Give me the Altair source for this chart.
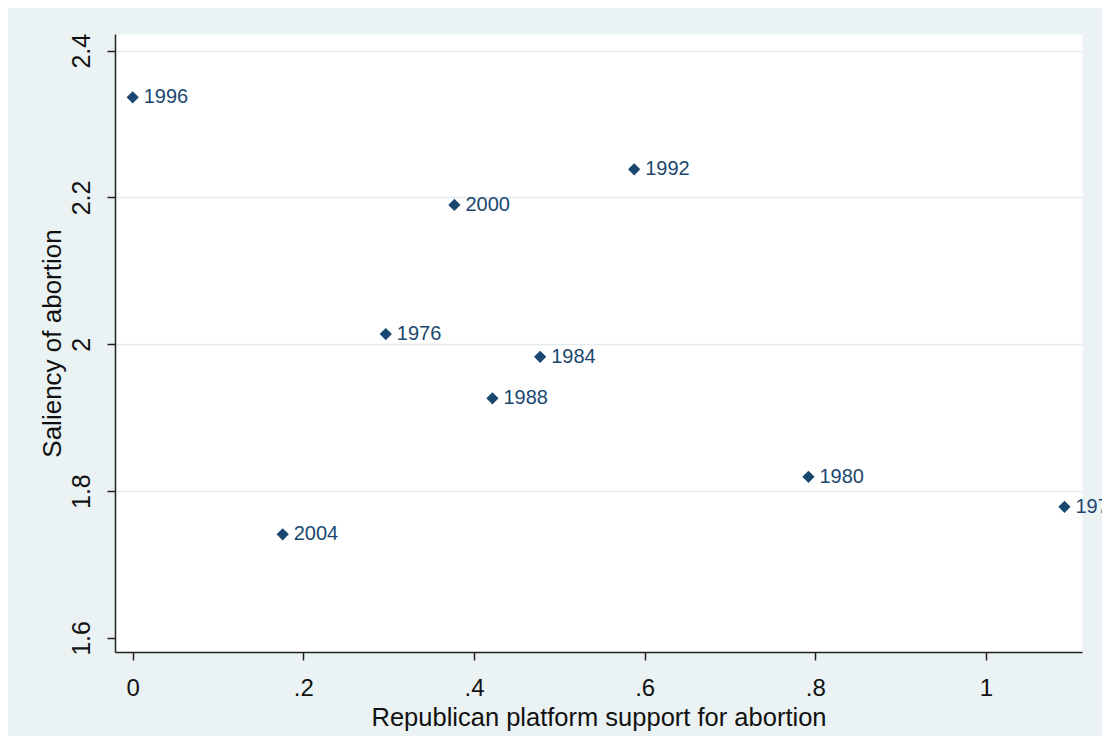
import altair as alt
import pandas as pd

years = ["1972", "1976", "1980", "1984", "1988", "1992", "1996", "2000", "2004"]
support = [1.092, 0.2966, 0.792, 0.4775, 0.4216, 0.5877, 0.0, 0.377, 0.1758]
saliency = [1.7787, 2.014, 1.8196, 1.983, 1.9264, 2.2384, 2.3365, 2.1898, 1.7412]

x_ticks = [0, 0.2, 0.4, 0.6, 0.8, 1]
y_ticks = [1.6, 1.8, 2.0, 2.2, 2.4]

df = pd.DataFrame({"year": years, "support": support, "saliency": saliency})

NAVY = "#1A476F"
FONT = "Liberation Sans"
PW, PH = 967, 618

xscale = alt.Scale(domain=[-0.02075, 1.11255], nice=False, zero=False)
yscale = alt.Scale(domain=[1.5809, 2.4227], nice=False, zero=False)

xaxis = alt.Axis(
    title="Republican platform support for abortion",
    values=x_ticks,
    labelExpr="datum.value == 0 ? '0' : datum.value >= 1 ? '1' : '.' + format(datum.value * 10, 'd')",
    grid=False,
    labelBaseline="alphabetic",
    labelPadding=35,
    labelFontSize=24,
    titleFontSize=25.5,
    titleFontWeight="normal",
    titleBaseline="alphabetic",
    titleX=PW / 2,
    titleY=73,
)
yaxis = alt.Axis(
    title="Saliency of abortion",
    values=y_ticks,
    labelExpr="format(datum.value, '.1~f')",
    labelAngle=270,
    labelAlign="center",
    labelBaseline="alphabetic",
    labelPadding=18,
    labelFontSize=25,
    grid=True,
    gridOpacity=alt.condition("datum.value < 1.7", alt.value(0), alt.value(1)),
    titleFontSize=26,
    titleFontWeight="normal",
    titleAngle=270,
    titleBaseline="alphabetic",
    titleX=-55,
    titleY=PH / 2,
)

base = alt.Chart(df)

points = base.mark_point(shape="diamond", filled=True, size=150, color=NAVY, opacity=1).encode(
    x=alt.X("support:Q", scale=xscale, axis=xaxis),
    y=alt.Y("saliency:Q", scale=yscale, axis=yaxis),
)

labels = base.mark_text(align="left", baseline="middle", dx=11, fontSize=20, font=FONT, color=NAVY).encode(
    x=alt.X("support:Q", scale=xscale),
    y=alt.Y("saliency:Q", scale=yscale),
    text="year:N",
)

chart = (
    alt.layer(points, labels)
    .properties(
        width=PW,
        height=PH,
        autosize=alt.AutoSizeParams(type="none"),
        padding={"left": 107, "top": 26, "right": 20, "bottom": 84},
        background="#EAF2F3",
    )
    .configure_view(fill="white", stroke="transparent")
    .configure_axis(
        domainColor="#222222",
        domainWidth=1.5,
        tickColor="#222222",
        tickWidth=1.5,
        tickSize=8,
        labelColor="#111111",
        titleColor="#111111",
        labelFont=FONT,
        titleFont=FONT,
        gridColor="#E2ECEE",
        gridWidth=1.5,
    )
)

chart.save("out.html", embed_options={"renderer": "svg", "actions": False})
